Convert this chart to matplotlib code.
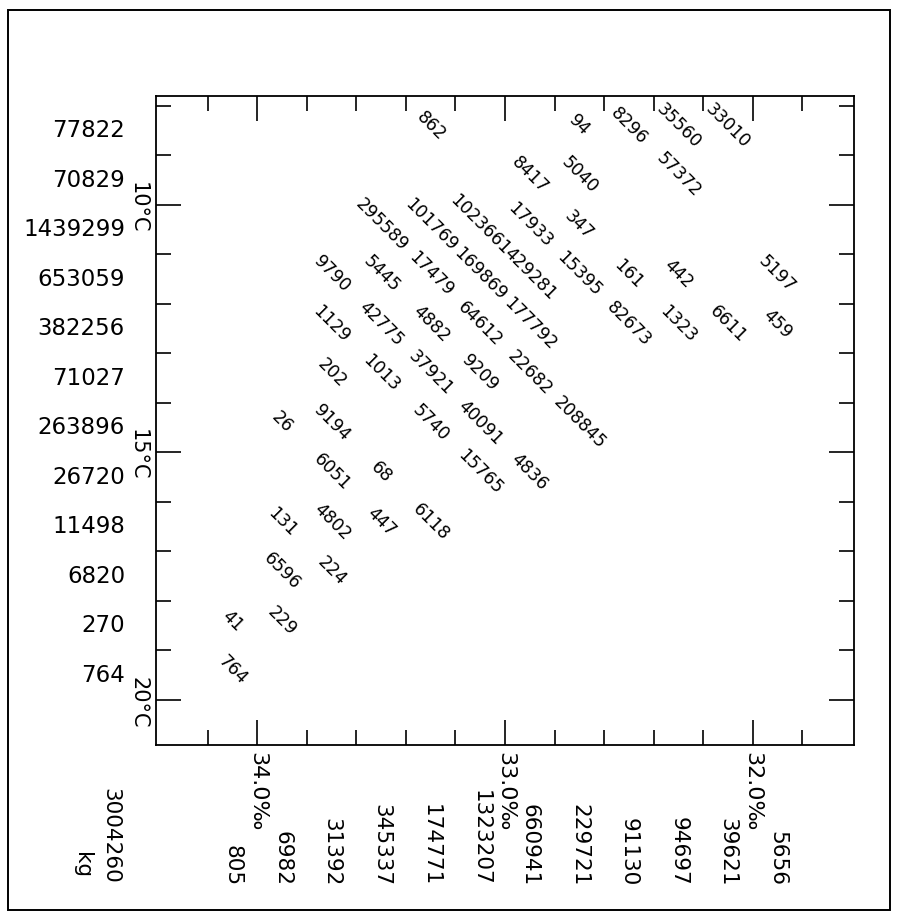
import matplotlib
matplotlib.use("Agg")
import matplotlib.pyplot as plt
from matplotlib.patches import Rectangle
import matplotlib.transforms as mtrans

# ---------------- data ----------------
# temperature classes (upper edge of each 1 degC class, top to bottom)
temp_classes = [8, 9, 10, 11, 12, 13, 14, 15, 16, 17, 18, 19]
temp_totals = [77822, 70829, 1439299, 653059, 382256, 71027,
               263896, 26720, 11498, 6820, 270, 764]
# salinity classes (centre of each 0.2 permil class, left to right)
sal_classes = [34.1, 33.9, 33.7, 33.5, 33.3, 33.1,
               32.9, 32.7, 32.5, 32.3, 32.1, 31.9]
sal_totals = [805, 6982, 31392, 345337, 174771, 1323207,
              660941, 229721, 91130, 94697, 39621, 5656]
grand_total = "3004260"
total_unit = "kg"

temp_ticks_labelled = [10, 15, 20]
temp_tick_labels = ["10°C", "15°C", "20°C"]
temp_ticks_minor = [8, 9, 11, 12, 13, 14, 16, 17, 18, 19]
sal_ticks_labelled = [34.0, 33.0, 32.0]
sal_tick_labels = ["34.0‰", "33.0‰", "32.0‰"]
sal_ticks_minor = [34.2, 33.8, 33.6, 33.4, 33.2, 32.8, 32.6, 32.4, 32.2, 31.8]

# cell values: temperature class, salinity class, amount
cell_temp = [8, 8, 8, 8, 8,
             9, 9, 9,
             10, 10, 10, 10, 10,
             11, 11, 11, 11, 11, 11, 11, 11, 11,
             12, 12, 12, 12, 12, 12, 12, 12, 12,
             13, 13, 13, 13, 13,
             14, 14, 14, 14, 14,
             15, 15, 15, 15,
             16, 16, 16, 16,
             17, 17,
             18, 18,
             19]
cell_sal = [33.3, 32.7, 32.5, 32.3, 32.1,
            32.9, 32.7, 32.3,
            33.5, 33.3, 33.1, 32.9, 32.7,
            33.7, 33.5, 33.3, 33.1, 32.9, 32.7, 32.5, 32.3, 31.9,
            33.7, 33.5, 33.3, 33.1, 32.9, 32.5, 32.3, 32.1, 31.9,
            33.7, 33.5, 33.3, 33.1, 32.9,
            33.9, 33.7, 33.3, 33.1, 32.7,
            33.7, 33.5, 33.1, 32.9,
            33.9, 33.7, 33.5, 33.3,
            33.9, 33.7,
            34.1, 33.9,
            34.1]
cell_value = [862, 94, 8296, 35560, 33010,
              8417, 5040, 57372,
              295589, 101769, 1023661, 17933, 347,
              9790, 5445, 17479, 169869, 429281, 15395, 161, 442, 5197,
              1129, 42775, 4882, 64612, 177792, 82673, 1323, 6611, 459,
              202, 1013, 37921, 9209, 22682,
              26, 9194, 5740, 40091, 208845,
              6051, 68, 15765, 4836,
              131, 4802, 447, 6118,
              6596, 224,
              41, 229,
              764]

# ---------------- figure ----------------
W, H = 897, 915
fig = plt.figure(figsize=(W / 100, H / 100), dpi=100)
fig.patch.set_facecolor("white")
L, R, T, B = 156, 854, 96, 745
ax = fig.add_axes([L / W, 1 - B / H, (R - L) / W, (B - T) / H])
ax.set_xlim(34.41, 31.59)
ax.set_ylim(20.91, 7.80)

for s in ax.spines.values():
    s.set_linewidth(1.3)

ax.set_xticks(sal_ticks_labelled)
ax.set_xticks(sal_ticks_minor, minor=True)
ax.set_yticks(temp_ticks_labelled)
ax.set_yticks(temp_ticks_minor, minor=True)
ax.tick_params(which="both", direction="in", top=True, right=True,
               labelbottom=False, labelleft=False, width=1.2, color="black")
ax.tick_params(which="major", length=18)
ax.tick_params(which="minor", length=11)

# cell numbers
for t, s, v in zip(cell_temp, cell_sal, cell_value):
    ax.text(s, t + 0.4, str(v), rotation=-45, rotation_mode="anchor",
            ha="center", va="center", fontsize=12.5, color="black")

# row totals (left)
left_tr = mtrans.offset_copy(ax.get_yaxis_transform(), fig=fig, x=-31, y=0, units="dots")
for t, v in zip(temp_classes, temp_totals):
    ax.text(0, t + 0.5, str(v), transform=left_tr, ha="right", va="center",
            fontsize=16.5, clip_on=False)

# temperature labels (rotated)
deg_tr = mtrans.offset_copy(ax.get_yaxis_transform(), fig=fig, x=-18, y=0, units="dots")
for t, lab in zip(temp_ticks_labelled, temp_tick_labels):
    ax.text(0, t + 0.05, lab, transform=deg_tr, rotation=270, ha="center", va="center",
            fontsize=15, clip_on=False)

# bottom labels
bot_tr = mtrans.blended_transform_factory(ax.transData, fig.transFigure)
for s, lab in zip(sal_ticks_labelled, sal_tick_labels):
    ax.text(s, 1 - 752 / H, lab, transform=bot_tr, rotation=270,
            ha="center", va="top", fontsize=16, clip_on=False)
for s, v in zip(sal_classes, sal_totals):
    ax.text(s, 1 - 886 / H, str(v), transform=bot_tr, rotation=270,
            ha="center", va="bottom", fontsize=15.5, clip_on=False)

fig.text(110 / W, 1 - 884 / H, grand_total, rotation=270, ha="center",
         va="bottom", fontsize=15.5)
fig.text(82 / W, 1 - 878 / H, total_unit, rotation=270, ha="center",
         va="bottom", fontsize=15.5)

# outer frame
fig.add_artist(Rectangle((8 / W, 1 - 910 / H), (890 - 8) / W, (910 - 10) / H,
                         transform=fig.transFigure, fill=False, lw=1.4,
                         edgecolor="black"))

fig.savefig("out.png", dpi=100, facecolor="white")
